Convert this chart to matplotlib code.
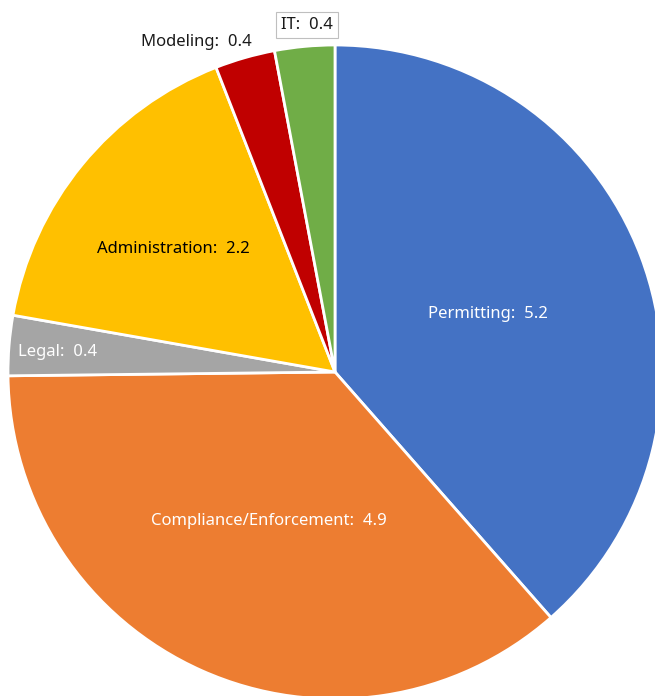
import numpy as np
import matplotlib
matplotlib.use("Agg")
import matplotlib.pyplot as plt

categories = ["Permitting", "Compliance/Enforcement", "Legal", "Administration", "Modeling", "IT"]
values = [5.2, 4.9, 0.4, 2.2, 0.4, 0.4]
colors = ["#4472C4", "#ED7D31", "#A5A5A5", "#FFC000", "#C00000", "#70AD47"]

plt.rcParams["font.family"] = ["Noto Sans", "DejaVu Sans"]

W, H = 655, 696
cx, cy, R = 335, 372, 327

fig = plt.figure(figsize=(W / 100, H / 100), dpi=100)
ax = fig.add_axes([0, 0, 1, 1])
wedges, _ = ax.pie(values, colors=colors, startangle=90, counterclock=False,
                   radius=1, center=(0, 0),
                   wedgeprops=dict(edgecolor="white", linewidth=2))
ax.set_xlim(-cx / R, (W - cx) / R)
ax.set_ylim(-(H - cy) / R, cy / R)
ax.set_aspect("equal")
ax.axis("off")

# inside labels: (radius fraction, angle nudge in deg, text colour)
inside = {"Permitting": (0.5, 0, "white"), "Compliance/Enforcement": (0.5, 0, "white"),
          "Legal": (0.85, 0.5, "white"), "Administration": (0.62, 2, "black")}
fs = 12
for w, cat, v in zip(wedges, categories, values):
    mid_deg = (w.theta1 + w.theta2) / 2
    mid = np.deg2rad(mid_deg)
    txt = f"{cat}:  {v}"
    if cat in inside:
        r, nudge, c = inside[cat]
        a = np.deg2rad(mid_deg + nudge)
        ax.text(r * np.cos(a), r * np.sin(a), txt, ha="center", va="center",
                color=c, fontsize=fs)
    elif cat == "Modeling":
        ax.annotate(txt, (np.cos(mid), np.sin(mid)), xytext=(7, 16),
                    textcoords="offset pixels", ha="right", va="center",
                    color="#1a1a1a", fontsize=fs)
    else:
        ax.annotate(txt, (np.cos(mid), np.sin(mid)), xytext=(2, 21),
                    textcoords="offset pixels", ha="center", va="center",
                    color="#1a1a1a", fontsize=fs,
                    bbox=dict(boxstyle="square,pad=0.3", fc="white", ec="#BFBFBF", lw=0.8))

fig.savefig("out.png", dpi=100)
